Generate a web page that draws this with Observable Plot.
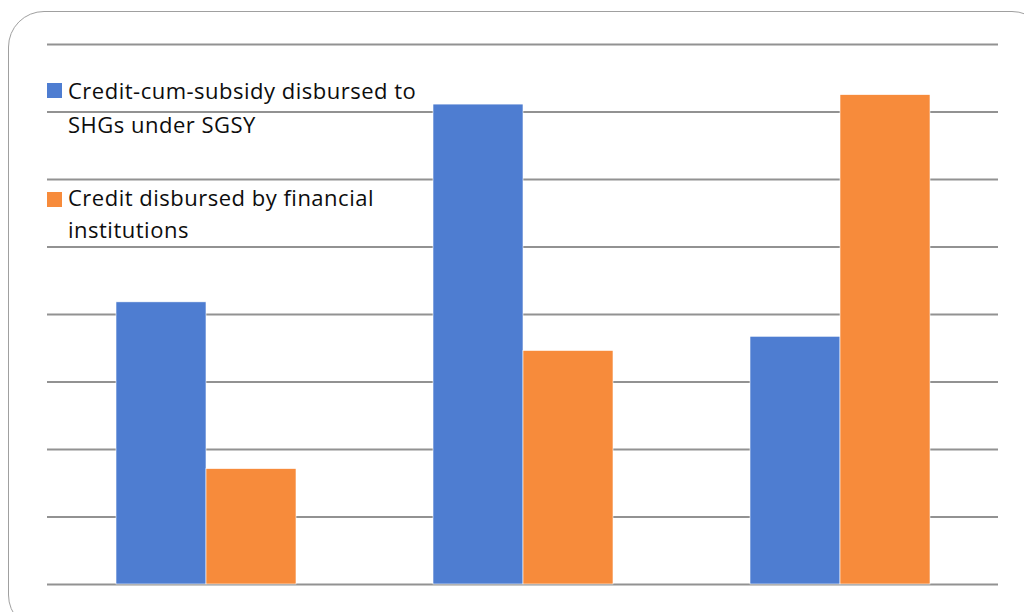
<!DOCTYPE html>
<html>
<head>
<meta charset="utf-8">
<script src="https://cdn.jsdelivr.net/npm/d3@7"></script>
<script src="https://cdn.jsdelivr.net/npm/@observablehq/plot@0.6"></script>
<style>
  html, body { margin: 0; padding: 0; background: #fff; overflow: hidden; }
  #wrap { position: relative; width: 1024px; height: 612px; overflow: hidden; }
  #frame { position: absolute; left: 8px; top: 11px; width: 1040px; height: 620px;
           border: 1.5px solid #a0a0a0; border-radius: 36px; box-sizing: border-box; }
  #chart { position: absolute; left: 0; top: 0; }
  #legend { position: absolute; left: 0; top: 0; font-family: "Open Sans", Lato, sans-serif;
            font-size: 22px; letter-spacing: 0.5px; color: #0d0d0d; }
  .line { position: absolute; left: 68px; white-space: nowrap; line-height: 22px; }
  .sw { position: absolute; left: 47px; width: 15px; height: 15px; }
</style>
</head>
<body>
<div id="wrap">
  <div id="frame"></div>
  <div id="chart"></div>
  <div id="legend"></div>
</div>
<script>
const categories = ["Group 1", "Group 2", "Group 3"];
const seriesNames = ["Credit-cum-subsidy disbursed to SHGs under SGSY", "Credit disbursed by financial institutions"];
const seriesLegendLines = [["Credit-cum-subsidy disbursed to", "SHGs under SGSY"], ["Credit disbursed by financial", "institutions"]];
const seriesColors = ["#4e7dd1", "#f78b3b"];
const subsidyValues = [4.18, 7.11, 3.67];
const creditValues = [1.71, 3.46, 7.25];
const gridTicks = [0, 1, 2, 3, 4, 5, 6, 7, 8];

const data = [];
categories.forEach((c, i) => {
  data.push({category: c, series: seriesNames[0], value: subsidyValues[i]});
  data.push({category: c, series: seriesNames[1], value: creditValues[i]});
});

const chart = Plot.plot({
  width: 1024,
  height: 612,
  marginLeft: 46,
  marginRight: 26,
  marginTop: 44,
  marginBottom: 28,
  style: {background: "transparent", overflow: "visible"},
  fx: {domain: categories, padding: 0, axis: null},
  x: {domain: seriesNames, paddingInner: 0, paddingOuter: 0.76, axis: null},
  y: {domain: [0, 8], axis: null},
  color: {domain: seriesNames, range: seriesColors},
  marks: [
    Plot.ruleY(gridTicks, {stroke: "#929292", strokeWidth: 2, strokeOpacity: 1}),
    Plot.barY(data, {fx: "category", x: "series", y: "value", fill: "series", stroke: "#fff", strokeWidth: 0.6})
  ]
});
document.getElementById("chart").appendChild(chart);

const legend = document.getElementById("legend");
const swatchTops = [83, 192];
const lineTops = [[78.5, 112.5], [185.5, 217.5]];
seriesLegendLines.forEach((lines, i) => {
  const sw = document.createElement("div");
  sw.className = "sw";
  sw.style.top = swatchTops[i] + "px";
  sw.style.background = seriesColors[i];
  legend.appendChild(sw);
  lines.forEach((t, j) => {
    const d = document.createElement("div");
    d.className = "line";
    d.style.top = lineTops[i][j] + "px";
    d.textContent = t;
    legend.appendChild(d);
  });
});
</script>
</body>
</html>
